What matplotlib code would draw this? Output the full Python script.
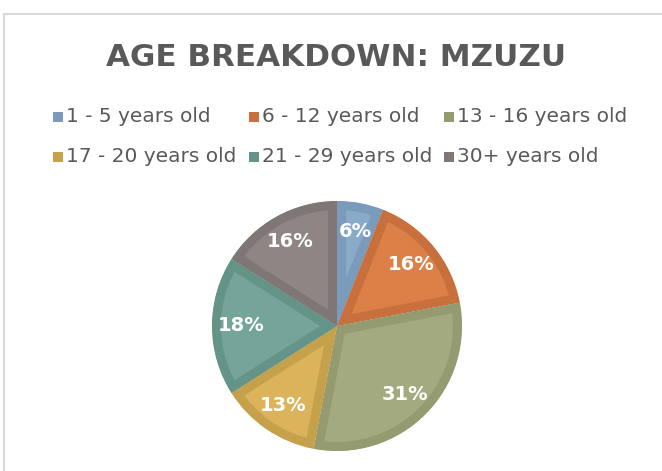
import matplotlib.pyplot as plt
from matplotlib.patches import Rectangle

labels = ['1 - 5 years old', '6 - 12 years old', '13 - 16 years old',
          '17 - 20 years old', '21 - 29 years old', '30+ years old']
values = [6, 16, 31, 13, 18, 16]
fills = ['#8AAAC9', '#DC8048', '#A4AA80', '#DAB35B', '#75A498', '#8F8684']
edges = ['#7A9BBC', '#C8703D', '#959B71', '#C6A14B', '#649387', '#7F7775']

W, H = 662, 471
fig = plt.figure(figsize=(W / 100, H / 100), dpi=100)
plt.rcParams['font.family'] = ['DejaVu Sans']

# chart frame (runs off right/bottom edge like the screenshot)
fig.patches.append(Rectangle((4 / W, -0.1), 1.2, (H - 14) / H + 0.1,
                             transform=fig.transFigure, fill=False,
                             edgecolor='#D9D9D9', linewidth=1.5))

fig.text(336 / W, 1 - 57 / H, 'AGE BREAKDOWN: MZUZU', ha='center', va='center',
         fontsize=22.3, fontweight='bold', color='#595959')

# legend, 3 per row
col_x = [53, 249, 444]
row_y = [117, 157]
for i, lab in enumerate(labels):
    x = col_x[i % 3]
    y = row_y[i // 3]
    fig.patches.append(Rectangle((x / W, 1 - (y + 5) / H), 10 / W, 10 / H,
                                 transform=fig.transFigure, facecolor=edges[i],
                                 edgecolor='none'))
    fig.text((x + 13) / W, 1 - y / H, lab, ha='left', va='center',
             fontsize=14.5, color='#595959')

cx, cy, r = 337, 326, 125
ax = fig.add_axes([(cx - r) / W, (H - cy - r) / H, 2 * r / W, 2 * r / H])
wedges, _, autotexts = ax.pie(values, colors=fills, startangle=90, counterclock=False,
                              autopct=lambda p: f'{p:.0f}%', pctdistance=0.77,
                              wedgeprops=dict(linewidth=0))
for w, ec in zip(wedges, edges):
    # inner border: stroke clipped to the wedge itself
    w.set_edgecolor(ec)
    w.set_linewidth(13)
    w.set_clip_on(True)
    w.set_clip_path(w)
for t in autotexts:
    t.set_color('white')
    t.set_fontsize(14)
    t.set_fontweight('bold')
ax.set_xlim(-1, 1)
ax.set_ylim(-1, 1)
ax.axis('off')

fig.savefig('out.png', dpi=100)
